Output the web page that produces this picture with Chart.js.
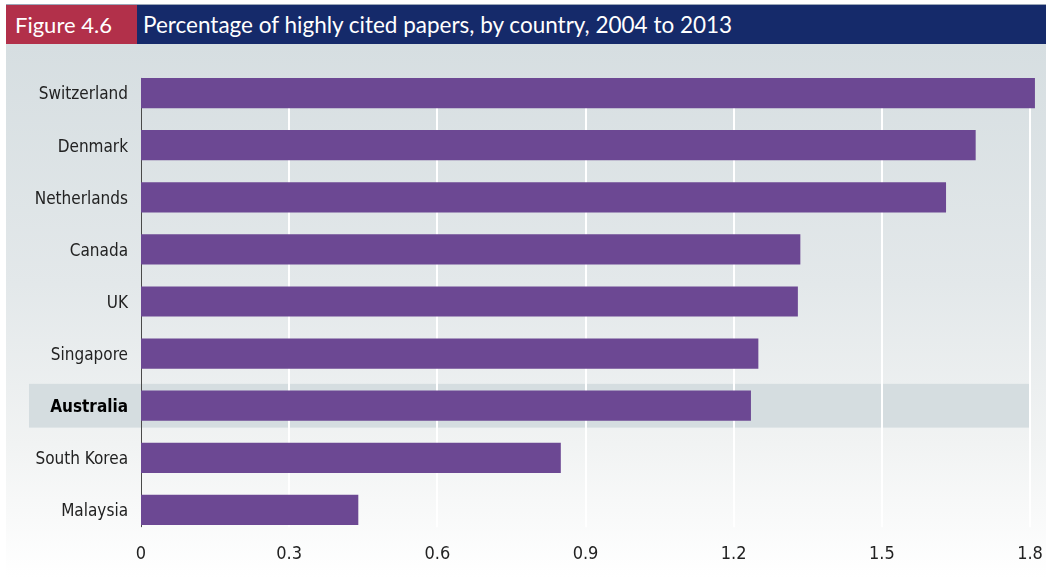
<!DOCTYPE html>
<html>
<head>
<meta charset="utf-8">
<script src="https://cdn.jsdelivr.net/npm/chart.js@4/dist/chart.umd.min.js"></script>
<style>
  body { margin: 0; background: #fff; }
  #wrap { position: relative; width: 1051px; height: 577px; overflow: hidden; }
  #bg { position: absolute; left: 6px; top: 44px; width: 1040px; height: 533px;
        background: linear-gradient(to bottom, #d6dee1 0%, #e3e8ea 45%, #f1f3f3 75%, #ffffff 100%); }
  #topline { position: absolute; left: 6px; top: 4px; width: 1040px; height: 1px; background: #9aa6b8; }
  #fig { position: absolute; left: 6px; top: 5px; width: 131px; height: 39px; background: #b2304a;
         color: #fff; font: 22px "Lato", sans-serif; line-height: 39px; padding-left: 9px; box-sizing: border-box; }
  #title { position: absolute; left: 137px; top: 5px; width: 909px; height: 39px; background: #152a6a;
           color: #fff; font: 22.5px "Lato", sans-serif; line-height: 39px; padding-left: 6px; box-sizing: border-box; }
  canvas { position: absolute; left: 0; top: 0; }
</style>
</head>
<body>
<div id="wrap">
  <div id="bg"></div>
  <div id="topline"></div>
  <div id="fig">Figure 4.6</div>
  <div id="title">Percentage of highly cited papers, by country, 2004 to 2013</div>
  <canvas id="c" width="1051" height="577"></canvas>
</div>
<script>
var countries = ['Switzerland', 'Denmark', 'Netherlands', 'Canada', 'UK', 'Singapore', 'Australia', 'South Korea', 'Malaysia'];
var percents = [1.81, 1.69, 1.63, 1.335, 1.33, 1.25, 1.235, 0.85, 0.44];
var xTicks = [0, 0.3, 0.6, 0.9, 1.2, 1.5, 1.8];
var highlight = 'Australia';

var labelFont = '"DejaVu Sans Condensed", "Liberation Sans", sans-serif';

// band behind the highlighted country and the grid, drawn before the scales
var bandPlugin = {
  id: 'band',
  beforeDraw: function(chart) {
    var ctx = chart.ctx;
    var x = chart.scales.x, y = chart.scales.y;
    var i = countries.indexOf(highlight);
    var yc = y.getPixelForValue(i);
    var step = y.getPixelForValue(1) - y.getPixelForValue(0);
    ctx.save();
    ctx.fillStyle = '#d5dde0';
    ctx.fillRect(29, yc - step * 0.42, x.getPixelForValue(1.8) - 29, step * 0.84);
    // gridlines
    var top = y.getPixelForValue(0) - step * 0.29;
    var bottom = y.getPixelForValue(countries.length - 1) + step * 0.33;
    ctx.strokeStyle = '#ffffff';
    ctx.lineWidth = 2;
    xTicks.forEach(function(t) {
      if (t === 0) return;
      var px = Math.round(x.getPixelForValue(t));
      ctx.beginPath();
      ctx.moveTo(px, top);
      ctx.lineTo(px, bottom);
      ctx.stroke();
    });
    ctx.strokeStyle = '#4a4a4a';
    ctx.lineWidth = 1;
    var x0 = Math.round(x.getPixelForValue(0)) + 0.5;
    ctx.beginPath();
    ctx.moveTo(x0, top);
    ctx.lineTo(x0, bottom);
    ctx.stroke();
    ctx.restore();
  }
};

new Chart(document.getElementById('c').getContext('2d'), {
  type: 'bar',
  data: {
    labels: countries,
    datasets: [{
      data: percents,
      backgroundColor: '#6c4893',
      borderWidth: 0,
      barPercentage: 0.58,
      categoryPercentage: 1,
      clip: false
    }]
  },
  options: {
    indexAxis: 'y',
    responsive: false,
    devicePixelRatio: 1,
    animation: false,
    layout: { padding: { left: 0, right: 21, top: 67, bottom: 0 } },
    plugins: { legend: { display: false }, tooltip: { enabled: false } },
    scales: {
      x: {
        min: 0, max: 1.8,
        afterFit: function(s) { s.height = 41; },
        afterBuildTicks: function(s) { s.ticks = xTicks.map(function(v) { return { value: v }; }); },
        grid: { display: false, drawTicks: false },
        border: { display: false },
        ticks: {
          padding: 8,
          color: '#222',
          font: { family: labelFont, size: 18 },
          callback: function(v) { return v === 0 ? '0' : v.toFixed(1); }
        }
      },
      y: {
        afterFit: function(s) { s.width = 141; },
        grid: { display: false, drawTicks: false },
        border: { display: false },
        ticks: {
          padding: 13,
          labelOffset: 2,
          color: function(c) { return c.index === countries.indexOf(highlight) ? '#000' : '#222'; },
          font: function(c) {
            return { family: labelFont, size: 17, weight: c.index === countries.indexOf(highlight) ? 'bold' : 'normal' };
          }
        }
      }
    }
  },
  plugins: [bandPlugin]
});
</script>
</body>
</html>
